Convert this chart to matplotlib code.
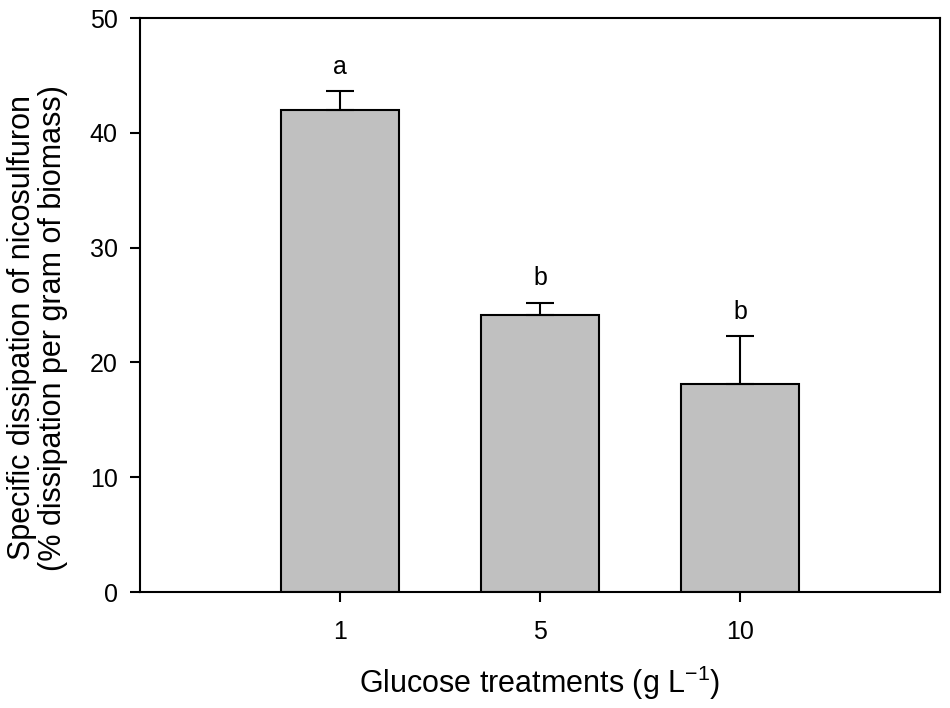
import matplotlib
matplotlib.use("Agg")
import matplotlib.pyplot as plt

categories = ["1", "5", "10"]
values = [42.0, 24.1, 18.1]
errors = [1.6, 1.1, 4.2]
letters = ["a", "b", "b"]

plt.rcParams['font.family'] = ['Liberation Sans', 'DejaVu Sans']
plt.rcParams['mathtext.fontset'] = 'custom'
plt.rcParams['mathtext.rm'] = 'Liberation Sans'

fig = plt.figure(figsize=(9.5, 7.08), dpi=100)
ax = fig.add_axes([140/950, 116/708, 800/950, 574/708])

pos = [1, 2, 3]
ax.bar(pos, values, width=0.59, color="#c0c0c0", edgecolor="black", linewidth=1.5, zorder=2)
ax.errorbar(pos, values, yerr=[[0]*3, errors], fmt="none", ecolor="black",
            elinewidth=1.5, capsize=10, capthick=1.5, zorder=3)
for p, v, e, l in zip(pos, values, errors, letters):
    ax.text(p, v + e + 1.5, l, ha="center", va="baseline", fontsize=18)

ax.set_xlim(0, 4)
ax.set_ylim(0, 50)
ax.set_xticks(pos)
ax.set_xticklabels(categories)
ax.set_yticks(range(0, 51, 10))
ax.tick_params(axis="both", direction="out", length=7, width=1.5, labelsize=18)
ax.tick_params(axis="x", pad=13)
ax.tick_params(axis="y", pad=9)
ax.tick_params(top=False, right=False)
for s in ax.spines.values():
    s.set_linewidth(1.5)

ax.set_xlabel("Glucose treatments (g L$^{\\mathregular{-1}}$)", fontsize=22, labelpad=14)
ax.set_ylabel("Specific dissipation of nicosulfuron\n(% dissipation per gram of biomass)",
              fontsize=22, linespacing=1.05)
ax.yaxis.set_label_coords(-0.09, 0.46)

fig.savefig("out.png", dpi=100)
